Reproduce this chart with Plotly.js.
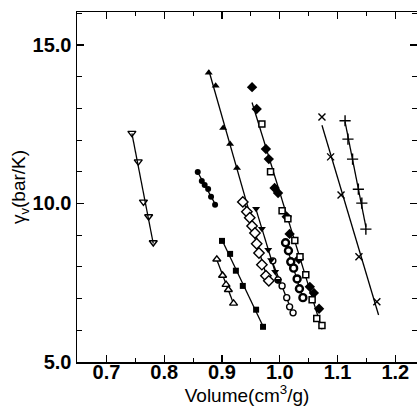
<!DOCTYPE html>
<html>
<head>
<meta charset="utf-8">
<script src="https://cdn.plot.ly/plotly-3.0.1.min.js"></script>
<style>html,body{margin:0;padding:0;background:#fff;}#chart{width:417px;height:414px;}</style>
</head>
<body>
<div id="chart"></div>
<script>
// ---- data ----
const triDownOpenX = [0.744, 0.755, 0.764, 0.773, 0.781];
const triDownOpenY = [12.22, 11.32, 10.05, 9.59, 8.77];

const circleFilledX = [0.858, 0.865, 0.870, 0.876, 0.881, 0.888];
const circleFilledY = [10.99, 10.71, 10.58, 10.46, 10.21, 9.96];

const triUpFilledX = [0.877, 0.889, 0.902, 0.914, 0.926];
const triUpFilledY = [14.12, 13.71, 12.38, 11.88, 11.12];
const triUpFitEnd = 0.962;

const diamondFilledX = [0.952, 0.960, 0.976, 0.981, 0.991, 0.997, 1.012, 1.017, 1.033, 1.052, 1.059, 1.068];
const diamondFilledY = [13.67, 12.98, 11.72, 11.40, 10.49, 10.33, 9.58, 9.04, 8.25, 7.37, 7.18, 6.68];

const squareOpenX = [0.969, 0.984, 1.004, 1.014, 1.026, 1.035, 1.045, 1.056, 1.064, 1.073];
const squareOpenY = [12.51, 11.00, 9.77, 9.52, 8.83, 8.32, 7.75, 6.96, 6.37, 6.15];

const diamondOpenX = [0.936, 0.943, 0.948, 0.952, 0.957, 0.960, 0.964, 0.969, 0.976, 0.981];
const diamondOpenY = [10.05, 9.74, 9.55, 9.29, 9.07, 8.73, 8.44, 8.07, 7.72, 7.56];

const circleOpenX = [0.988, 0.997, 1.004, 1.012, 1.017, 1.023];
const circleOpenY = [8.19, 7.59, 7.40, 7.03, 6.74, 6.55];

const triDownFilledX = [0.959, 0.969, 0.980, 0.985, 0.992, 0.997];
const triDownFilledY = [9.83, 9.20, 8.54, 8.22, 7.85, 7.56];

const squareFilledX = [0.900, 0.914, 0.924, 0.936, 0.959, 0.971];
const squareFilledY = [8.82, 8.41, 7.88, 7.40, 6.65, 6.11];

const triUpOpenX = [0.891, 0.901, 0.907, 0.911, 0.920];
const triUpOpenY = [8.24, 7.73, 7.44, 7.28, 6.85];

const ringX = [1.010, 1.015, 1.019, 1.024, 1.030, 1.034, 1.040];
const ringY = [8.76, 8.51, 8.16, 7.96, 7.62, 7.31, 7.03];

const crossXX = [1.073, 1.088, 1.106, 1.137, 1.168];
const crossXY = [12.73, 11.47, 10.27, 8.32, 6.90];
const crossXFitEnd = 1.171;

const plusX = [1.113, 1.118, 1.126, 1.136, 1.142, 1.149];
const plusY = [12.61, 12.03, 11.40, 10.45, 10.01, 9.19];

const xTickVals = [0.7, 0.8, 0.9, 1.0, 1.1, 1.2];
const xTickText = ['0.7', '0.8', '0.9', '1.0', '1.1', '1.2'];
const yTickVals = [5, 10, 15];
const yTickText = ['5.0', '10.0', '15.0'];

// ---- helpers ----
function fit(xs, ys) {
  const n = xs.length;
  let sx = 0, sy = 0, sxx = 0, sxy = 0;
  for (let i = 0; i < n; i++) { sx += xs[i]; sy += ys[i]; sxx += xs[i]*xs[i]; sxy += xs[i]*ys[i]; }
  const b = (n*sxy - sx*sy) / (n*sxx - sx*sx);
  const a = (sy - b*sx) / n;
  return [a, b];
}
function fitLine(xs, ys, x0, x1) {
  const [a, b] = fit(xs, ys);
  const lo = x0 !== undefined ? x0 : Math.min(...xs);
  const hi = x1 !== undefined ? x1 : Math.max(...xs);
  return {x: [lo, hi], y: [a + b*lo, a + b*hi], mode: 'lines', type: 'scatter',
          line: {color: '#000', width: 1.3}, hoverinfo: 'skip', showlegend: false};
}
function pts(xs, ys, symbol, size, lw, fill) {
  return {x: xs, y: ys, mode: 'markers', type: 'scatter', showlegend: false,
          marker: {symbol: symbol, size: size, color: fill || '#000', line: {color: '#000', width: lw}}};
}

const traces = [
  fitLine(triDownOpenX, triDownOpenY),
  fitLine(circleFilledX, circleFilledY),
  fitLine(triUpFilledX, triUpFilledY, undefined, triUpFitEnd),
  fitLine(diamondFilledX.concat(squareOpenX), diamondFilledY.concat(squareOpenY)),
  fitLine(diamondOpenX, diamondOpenY),
  fitLine(circleOpenX, circleOpenY),
  fitLine(triDownFilledX, triDownFilledY),
  fitLine(squareFilledX, squareFilledY),
  fitLine(triUpOpenX, triUpOpenY),
  fitLine(ringX, ringY),
  fitLine(crossXX, crossXY, undefined, crossXFitEnd),
  fitLine(plusX, plusY),
  pts(triDownOpenX, triDownOpenY, 'triangle-down-open', 7, 1.4),
  pts(circleFilledX, circleFilledY, 'circle', 6, 0),
  pts(triUpFilledX, triUpFilledY, 'triangle-up', 7, 0),
  pts(diamondFilledX, diamondFilledY, 'diamond', 8, 0),
  pts(squareOpenX, squareOpenY, 'square', 6, 1.5, '#fff'),
  pts(diamondOpenX, diamondOpenY, 'diamond', 8, 1.4, '#fff'),
  pts(circleOpenX, circleOpenY, 'circle', 6, 1.4, '#fff'),
  pts(triDownFilledX, triDownFilledY, 'triangle-down', 7, 0),
  pts(squareFilledX, squareFilledY, 'square', 6, 0),
  pts(triUpOpenX, triUpOpenY, 'triangle-up', 7, 1.4, '#fff'),
  pts(ringX, ringY, 'circle', 7, 2.4, '#fff'),
  pts(crossXX, crossXY, 'x-thin-open', 7, 1.4),
  pts(plusX, plusY, 'cross-thin-open', 8, 1.4)
];

const fontFam = '"Liberation Sans", Arial, Helvetica, sans-serif';
const layout = {
  width: 417, height: 414,
  margin: {l: 77, r: 0, t: 12, b: 52, pad: 0},
  paper_bgcolor: '#fff', plot_bgcolor: '#fff',
  showlegend: false,
  font: {family: fontFam, color: '#000'},
  xaxis: {
    range: [0.649, 1.2375], showgrid: false, zeroline: false,
    showline: true, linecolor: '#000', linewidth: 1.5, mirror: 'ticks',
    ticks: 'inside', ticklen: 7, tickwidth: 1.3, tickcolor: '#000',
    tickvals: xTickVals, ticktext: xTickText, ticklabelstandoff: -9,
    tickfont: {size: 20, family: fontFam, color: '#000', weight: 'bold'},
    minor: {dtick: 0.05, ticks: 'inside', ticklen: 4, tickwidth: 1.1, tickcolor: '#000', showgrid: false},
    title: {text: 'Volume(cm<sup>3</sup>/g)', font: {size: 19, family: fontFam, color: '#000'}, standoff: 0}
  },
  yaxis: {
    range: [5, 16.04], showgrid: false, zeroline: false,
    showline: true, linecolor: '#000', linewidth: 1.5, mirror: 'ticks',
    ticks: 'inside', ticklen: 7, tickwidth: 1.3, tickcolor: '#000',
    tickvals: yTickVals, ticktext: yTickText,
    tickfont: {size: 20, family: fontFam, color: '#000', weight: 'bold'},
    minor: {dtick: 1, ticks: 'inside', ticklen: 5, tickwidth: 1.1, tickcolor: '#000', showgrid: false},
    title: {text: 'γ<sub>v</sub>(bar/K)', font: {size: 19, family: fontFam, color: '#000'}, standoff: 2}
  }
};

Plotly.newPlot('chart', traces, layout, {staticPlot: true, displayModeBar: false});
</script>
</body>
</html>
